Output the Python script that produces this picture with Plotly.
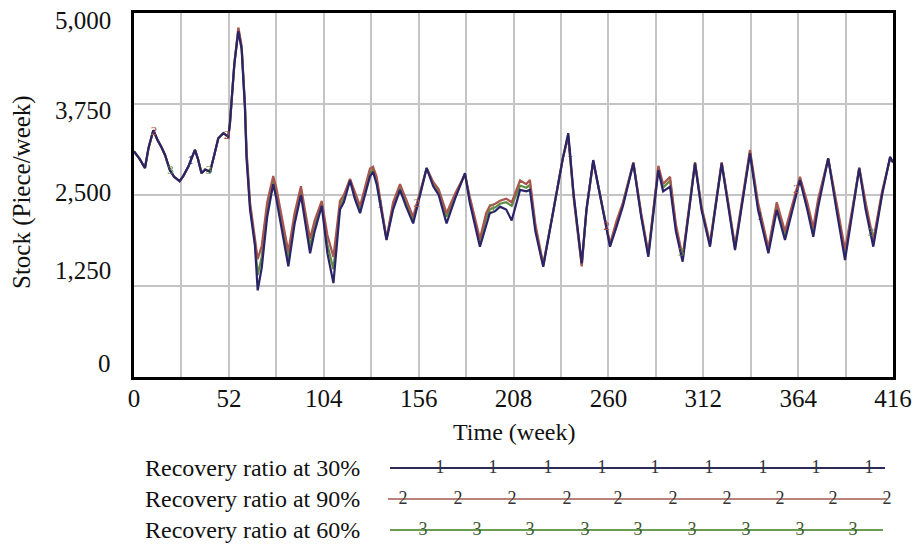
import numpy as np
import plotly.graph_objects as go

# ---------------- data ----------------
weeks = [0, 3, 6, 8, 10.6, 13, 15, 17, 19.7, 22,
         25, 27, 29.8, 33.4, 35, 37, 39, 41.7, 44, 46.2,
         49, 51.7, 52.6, 55, 57.2, 59, 60.8, 61.7, 63.6, 66.3,
         67.8, 70, 73, 76.3, 78, 81, 84.6, 88, 91.5, 94,
         96.5, 99, 102.9, 106, 109.3, 112.9, 115, 118.4, 121, 123.9,
         129.3, 131, 133, 138.4, 142, 145.8, 149, 153, 157, 160.4,
         164, 167, 171.3, 176, 181.4, 184, 189.6, 193, 195, 198,
         200.6, 204, 207, 211.6, 215, 217, 220, 224.3, 230, 235,
         238, 241, 245.4, 248, 251.7, 256, 260.9, 264.5, 268, 273.7,
         278, 281.9, 287.4, 290, 293.8, 297, 300.7, 307.5, 311, 315.7,
         322.1, 326, 329.4, 337.6, 342, 347.7, 352.3, 356.8, 361, 365,
         369, 372.3, 375, 380.5, 385, 389.7, 394, 397.5, 401, 405.2,
         410, 414.4, 416]

stock_30 = [3100, 3000, 2870, 3150, 3390, 3250, 3160, 3050, 2840, 2750,
            2690, 2760, 2890, 3120, 3000, 2800, 2850, 2820, 3050, 3280,
            3350, 3300, 3490, 4300, 4750, 4500, 3700, 3000, 2300, 1800,
            1190, 1500, 2200, 2650, 2450, 2000, 1520, 2100, 2500, 2100,
            1700, 2000, 2350, 1700, 1290, 2300, 2400, 2700, 2450, 2250,
            2750, 2820, 2650, 1880, 2300, 2570, 2350, 2110, 2500, 2870,
            2620, 2500, 2110, 2450, 2800, 2400, 1790, 2100, 2250, 2280,
            2340, 2300, 2150, 2570, 2550, 2570, 2000, 1515, 2300, 3000,
            3350, 2500, 1560, 2300, 2980, 2400, 1790, 2065, 2350, 2935,
            2200, 1650, 2840, 2550, 2614, 2000, 1584, 2935, 2300, 1790,
            2935, 2300, 1744, 3072, 2300, 1700, 2294, 1882, 2300, 2706,
            2300, 1927, 2339, 3004, 2300, 1607, 2300, 2866, 2300, 1790,
            2500, 3026, 2950]

stock_90 = [3100, 3000, 2870, 3150, 3390, 3250, 3160, 3050, 2840, 2750,
            2690, 2760, 2890, 3120, 3000, 2800, 2850, 2820, 3050, 3280,
            3350, 3300, 3490, 4300, 4800, 4550, 3750, 3100, 2400, 1900,
            1620, 1800, 2400, 2760, 2600, 2200, 1720, 2250, 2620, 2250,
            1900, 2150, 2420, 1950, 1650, 2420, 2500, 2720, 2550, 2350,
            2860, 2890, 2750, 1900, 2400, 2650, 2450, 2200, 2560, 2870,
            2680, 2580, 2250, 2520, 2780, 2480, 1900, 2250, 2350, 2380,
            2420, 2450, 2400, 2700, 2650, 2706, 2100, 1550, 2300, 3000,
            3300, 2450, 1520, 2300, 2960, 2450, 1830, 2150, 2400, 2950,
            2250, 1700, 2900, 2650, 2750, 2100, 1650, 2950, 2350, 1840,
            2950, 2350, 1800, 3120, 2400, 1780, 2400, 2000, 2400, 2750,
            2400, 2050, 2450, 3000, 2400, 1750, 2350, 2880, 2400, 1880,
            2550, 3000, 2950]

stock_60 = [3100, 3000, 2870, 3150, 3390, 3250, 3160, 3050, 2840, 2750,
            2690, 2760, 2890, 3120, 3000, 2800, 2850, 2820, 3050, 3280,
            3350, 3300, 3490, 4300, 4780, 4520, 3720, 3050, 2350, 1850,
            1400, 1650, 2300, 2700, 2520, 2100, 1620, 2180, 2560, 2180,
            1800, 2080, 2390, 1820, 1480, 2360, 2450, 2710, 2500, 2300,
            2800, 2860, 2700, 1890, 2350, 2610, 2400, 2160, 2530, 2870,
            2650, 2540, 2200, 2480, 2790, 2440, 1850, 2180, 2300, 2330,
            2380, 2400, 2350, 2630, 2600, 2640, 2050, 1530, 2300, 3000,
            3320, 2480, 1540, 2300, 2970, 2420, 1810, 2110, 2380, 2940,
            2220, 1680, 2870, 2600, 2700, 2050, 1620, 2940, 2330, 1820,
            2940, 2330, 1770, 3090, 2350, 1740, 2350, 1950, 2350, 2730,
            2350, 1990, 2400, 3000, 2350, 1680, 2330, 2870, 2350, 1840,
            2520, 3010, 2950]

series_names = ["Recovery ratio at 30%", "Recovery ratio at 90%", "Recovery ratio at 60%"]
series_tags = ["1", "2", "3"]
x_ticks = [0, 52, 104, 156, 208, 260, 312, 364, 416]
y_ticks = [0, 1250, 2500, 3750, 5000]
y_tick_text = ["0", "1,250", "2,500", "3,750", "5,000"]

# weeks where the small series numbers are printed on the curves
tag_weeks = {
    "1": [31, 135, 239, 343],
    "2": [11, 51, 155, 259, 363],
    "3": [20, 41, 196, 300, 404],
}

# ---------------- styling / layout constants ----------------
FONT = "Liberation Serif"
COL = {"1": "#2a2468", "2": "#a8574f", "3": "#5f8c45"}
LEG_COL = {"1": "#2c2c58", "2": "#b9837c", "3": "#6c9a55"}

W, H = 917, 550
ML, MR, MT, MB = 134, 24, 13, 10
PLOT_BOTTOM = 377


def py2paper(py):
    return (H - MB - py) / (H - MT - MB)


main_dom = [py2paper(PLOT_BOTTOM), 1.0]

fig = go.Figure()

series = {"1": stock_30, "2": stock_90, "3": stock_60}
names = dict(zip(series_tags, series_names))

# draw 3 first, then 2, then 1 on top (as in the reference)
for tag in ["3", "2", "1"]:
    fig.add_trace(go.Scatter(
        x=weeks, y=series[tag], mode="lines", name=names[tag],
        line=dict(color=COL[tag], width=2.2), showlegend=False,
        xaxis="x", yaxis="y"))

for tag in ["3", "2", "1"]:
    tw = tag_weeks[tag]
    ty = np.interp(tw, weeks, series[tag])
    fig.add_trace(go.Scatter(
        x=tw, y=ty, mode="text", text=[tag] * len(tw),
        textfont=dict(family=FONT, size=13, color=COL[tag]),
        showlegend=False, hoverinfo="skip", xaxis="x", yaxis="y"))

# ---------------- legend drawn on a helper axis (units = page pixels) ----------------
leg_rows = {"1": 468, "2": 499, "3": 530}
leg_line = {"1": (390, 885), "2": (388, 887), "3": (390, 883)}
leg_marks = {
    "1": [440, 493, 548, 602, 655, 709, 763, 816, 869],
    "2": [403, 458, 512, 567, 618, 673, 727, 780, 833, 887],
    "3": [423, 477, 530, 585, 638, 692, 746, 800, 853],
}
for tag in ["1", "2", "3"]:
    x0, x1 = leg_line[tag]
    yy = leg_rows[tag]
    fig.add_trace(go.Scatter(
        x=[x0, x1], y=[yy, yy], mode="lines",
        line=dict(color=LEG_COL[tag], width=1.8),
        showlegend=False, hoverinfo="skip", xaxis="x2", yaxis="y2"))
    fig.add_trace(go.Scatter(
        x=leg_marks[tag], y=[yy] * len(leg_marks[tag]), mode="text",
        text=[tag] * len(leg_marks[tag]),
        textfont=dict(family=FONT, size=18, color="#333333" if tag != "3" else "#3d5a30"),
        showlegend=False, hoverinfo="skip", xaxis="x2", yaxis="y2"))

annotations = []
for tag in ["1", "2", "3"]:
    annotations.append(dict(
        x=362, y=leg_rows[tag], xref="x2", yref="y2", text=names[tag],
        showarrow=False, xanchor="right", yanchor="middle",
        font=dict(family=FONT, size=24, color="#111111")))

# y tick labels (placed as in the reference, slightly off the grid lines)
y_label_shift = [14, 16, 3, -6, -7]
for v, t, s in zip(y_ticks, y_tick_text, y_label_shift):
    annotations.append(dict(
        x=(113 - ML) / (W - ML - MR), y=v, xref="paper", yref="y", text=t,
        showarrow=False, xanchor="right", yanchor="middle", yshift=s,
        font=dict(family=FONT, size=25, color="#111111")))

# axis titles
annotations.append(dict(
    x=(22 - ML) / (W - ML - MR), y=py2paper(192), xref="paper", yref="paper",
    text="Stock (Piece/week)", textangle=-90, showarrow=False,
    xanchor="center", yanchor="middle",
    font=dict(family=FONT, size=25, color="#111111")))
annotations.append(dict(
    x=(514 - ML) / (W - ML - MR), y=py2paper(432), xref="paper", yref="paper",
    text="Time (week)", showarrow=False, xanchor="center", yanchor="middle",
    font=dict(family=FONT, size=24, color="#111111")))

fig.update_layout(
    width=W, height=H,
    margin=dict(l=ML, r=MR, t=MT, b=MB),
    paper_bgcolor="white", plot_bgcolor="white",
    showlegend=False,
    annotations=annotations,
    xaxis=dict(
        domain=[0, 1], range=[0, 416], anchor="y",
        tickmode="array", tickvals=x_ticks, ticktext=[str(v) for v in x_ticks],
        showgrid=True, gridcolor="#c4c4c4", gridwidth=1.5,
        minor=dict(tickmode="linear", tick0=0, dtick=26, showgrid=True,
                   gridcolor="#c4c4c4", gridwidth=1.5),
        showline=True, linecolor="black", linewidth=3, mirror=True,
        ticks="", ticklabelstandoff=-3,
        tickfont=dict(family=FONT, size=25, color="#111111"),
        zeroline=False, automargin=False),
    yaxis=dict(
        domain=main_dom, range=[0, 5000], anchor="x",
        tickmode="array", tickvals=y_ticks, showticklabels=False,
        showgrid=True, gridcolor="#c4c4c4", gridwidth=1.5,
        showline=True, linecolor="black", linewidth=3, mirror=True,
        ticks="", zeroline=False, automargin=False),
    xaxis2=dict(domain=[0, 1], range=[ML, W - MR], anchor="y2",
                visible=False, fixedrange=True),
    yaxis2=dict(domain=[0, py2paper(450)], range=[H - MB, 450], anchor="x2",
                visible=False, fixedrange=True),
)

fig.write_html("out.html")
